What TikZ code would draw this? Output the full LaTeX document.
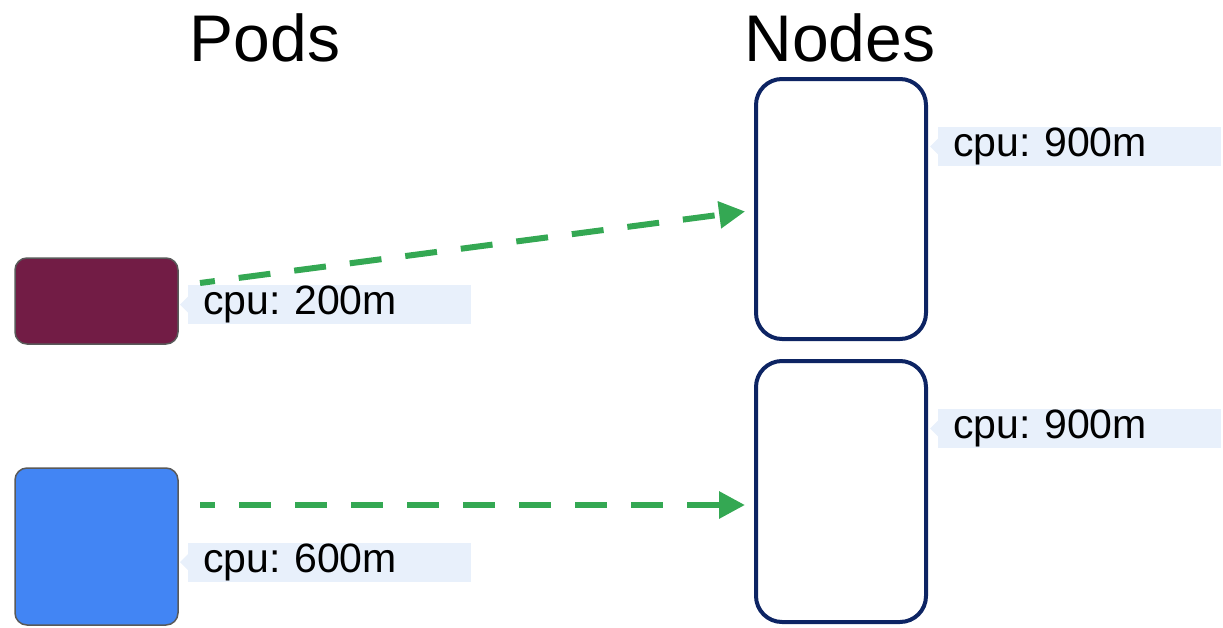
\documentclass[tikz,border=0pt]{standalone}
\usepackage{fontspec}
\setmainfont{Liberation Sans}
\usetikzlibrary{arrows.meta,calc}
\definecolor{podred}{HTML}{721C45}
\definecolor{podblue}{HTML}{4285F4}
\definecolor{podedge}{HTML}{595959}
\definecolor{navy}{HTML}{0D2463}
\definecolor{lblbg}{HTML}{E8F0FB}
\definecolor{arrgreen}{HTML}{34A853}
\frenchspacing
\tikzset{
  pod/.style={draw=podedge, line width=1.5pt, rounded corners=12pt},
  nodebox/.style={draw=navy, line width=4pt, rounded corners=26pt, fill=white, inner sep=0pt, outer sep=0pt},
  lbl/.style={fill=lblbg, inner sep=0pt, minimum width=283pt, minimum height=39pt, anchor=west,
    font=\fontsize{41}{44}\selectfont, text width=283pt, align=left},
  title/.style={font=\fontsize{66}{70}\selectfont, inner sep=0pt},
  conn/.style={arrgreen, line width=6pt, dash pattern=on 32pt off 24pt, dash phase=17pt,
    -{Triangle[length=26pt,width=26pt]}, shorten >=11pt}
}
\newcommand{\pointer}[1]{\fill[lblbg] (#1.west) ++(0,-8) -- ++(-8,8) -- ++(8,8) -- cycle;}
\begin{document}
\begin{tikzpicture}[x=1pt,y=-1pt]
\useasboundingbox (0,0) rectangle (1223,627);
\node[title] (tp) at (265,38) {Pods};
\node[title] (tn) at (840,38) {Nodes};
\draw[pod, fill=podred] (15,258) rectangle (178,344);
\draw[pod, fill=podblue] (15,468) rectangle (178,625);
\node[nodebox, minimum width=170pt, minimum height=260pt, anchor=north west] (n1) at (756,79) {};
\node[nodebox, minimum width=170pt, minimum height=261pt, anchor=north west] (n2) at (756,361) {};
% labels
\node[lbl] (l1) at (188,304.5) {\hspace*{15pt}\raisebox{-4pt}{cpu: 200m}};
\pointer{l1}
\node[lbl] (l2) at (188,562) {\hspace*{15pt}\raisebox{-4pt}{cpu: 600m}};
\pointer{l2}
\node[lbl] (l3) at (938,146.5) {\hspace*{15pt}\raisebox{-4pt}{cpu: 900m}};
\pointer{l3}
\node[lbl] (l4) at (938,428.5) {\hspace*{15pt}\raisebox{-4pt}{cpu: 900m}};
\pointer{l4}
% connectors
\coordinate (a1s) at (200,283);
\coordinate (a2s) at (200,505);
\draw[conn] (a1s) -- (n1.west |- 0,210);
\draw[conn] (a2s) -- (n2.west |- a2s);
\end{tikzpicture}
\end{document}
